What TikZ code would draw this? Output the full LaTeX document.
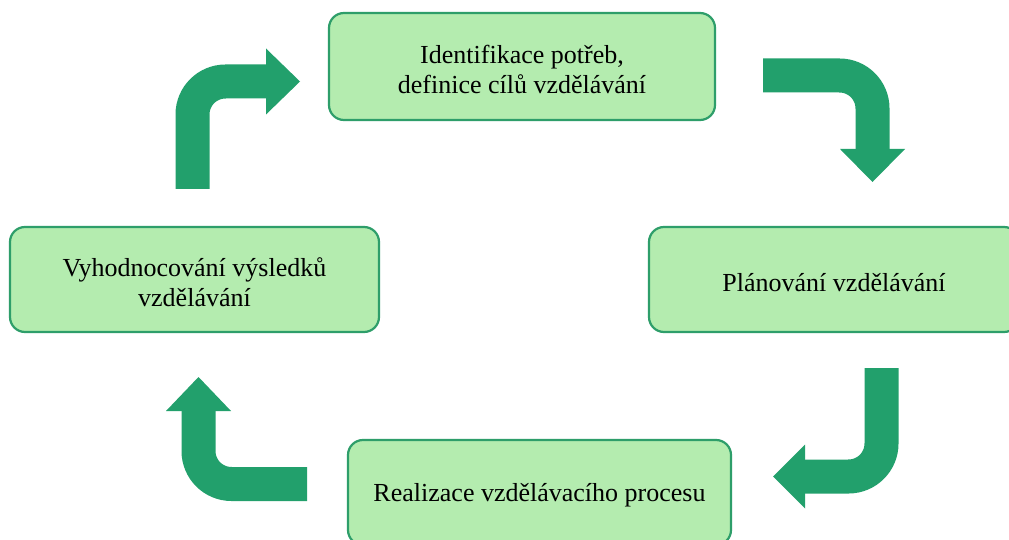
\documentclass[tikz,border=0pt]{standalone}
\usepackage{fontspec}
\setmainfont{Liberation Serif}
\definecolor{boxfill}{HTML}{B4ECAF}
\definecolor{boxline}{HTML}{2E9E6A}
\definecolor{arrowgreen}{HTML}{22A06C}
\begin{document}
\begin{tikzpicture}[x=1pt,y=-1pt,
  stage/.style={draw=boxline, line width=2.2pt, fill=boxfill, rounded corners=15pt,
    inner sep=0pt},
  stagetext/.style={align=center, inner sep=0pt, yshift=-3pt,
    font=\fontsize{26}{30}\selectfont},
  flowarrow/.style={draw=arrowgreen, line width=34pt, rounded corners=33pt},
  headtip/.style={fill=arrowgreen}]
\clip (0,0) rectangle (1009,540);
\fill[white] (0,0) rectangle (1009,540);
% boxes
\node[stage, minimum width=386pt, minimum height=107pt] (ident) at (522,66.5) {};
\node[stage, minimum width=370pt, minimum height=105pt] (plan) at (834,279.5) {};
\node[stage, minimum width=383pt, minimum height=105pt] (real) at (539.5,492.5) {};
\node[stage, minimum width=369pt, minimum height=105pt] (eval) at (194.5,279.5) {};
\node[stagetext] (identtext) at (ident.center) {Identifikace potřeb,\\definice cílů vzdělávání};
\node[stagetext] (plantext) at (plan.center) {Plánování vzdělávání};
\node[stagetext] (realtext) at (real.center) {Realizace vzdělávacího procesu};
\node[stagetext] (evaltext) at (eval.center) {Vyhodnocování výsledků\\vzdělávání};
% arrow 1: eval -> ident
\coordinate (a1s) at (192.5,189);
\coordinate (a1c) at (192.5,81.5);
\coordinate (a1b) at (267,81.5);
\draw[flowarrow] (a1s) -- (a1c) -- (a1b);
\fill[headtip] (266,48.5) -- (300,81.5) -- (266,114.5) -- cycle;
% arrow 2: ident -> plan
\coordinate (a2s) at (763,75.5);
\coordinate (a2c) at (872.5,75.5);
\coordinate (a2b) at (872.5,150);
\draw[flowarrow] (a2s) -- (a2c) -- (a2b);
\fill[headtip] (840,149) -- (872.5,182) -- (905,149) -- cycle;
% arrow 3: plan -> real
\coordinate (a3s) at (881.5,368);
\coordinate (a3c) at (881.5,476.5);
\coordinate (a3b) at (804,476.5);
\draw[flowarrow] (a3s) -- (a3c) -- (a3b);
\fill[headtip] (805,444.5) -- (773,476.5) -- (805,508.5) -- cycle;
% arrow 4: real -> eval
\coordinate (a4s) at (307,484);
\coordinate (a4c) at (198.5,484);
\coordinate (a4b) at (198.5,410);
\draw[flowarrow] (a4s) -- (a4c) -- (a4b);
\fill[headtip] (166,411) -- (198.5,377) -- (231,411) -- cycle;
\end{tikzpicture}
\end{document}
